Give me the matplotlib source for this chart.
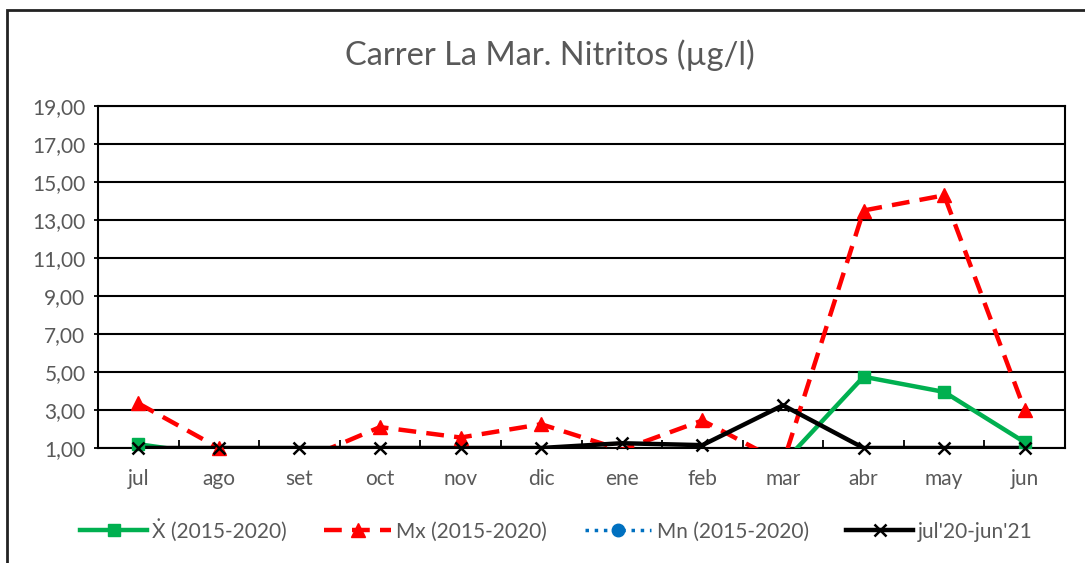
import matplotlib
matplotlib.use("Agg")
import matplotlib.pyplot as plt
from matplotlib.lines import Line2D
from matplotlib.patches import Rectangle
from matplotlib.ticker import FuncFormatter

plt.rcParams['font.family'] = ['Lato', 'DejaVu Sans']

# months and series (values < 1 are hidden under the axis)
months = ['jul', 'ago', 'set', 'oct', 'nov', 'dic', 'ene', 'feb', 'mar', 'abr', 'may', 'jun']
media = [1.2, 0.6, 0.5, 0.6, 0.6, 0.6, 0.6, 0.9, 0.2, 4.75, 3.95, 1.3]
maximo = [3.35, 1.0, 0.3, 2.1, 1.55, 2.25, 0.9, 2.45, 0.2, 13.5, 14.3, 3.0]
minimo = [0.5, 0.5, 0.5, 0.5, 0.5, 0.5, 0.5, 0.5, 0.5, 0.5, 0.5, 0.5]
actual = [1.0, 1.0, 1.0, 1.0, 1.0, 1.0, 1.25, 1.15, 3.25, 1.0, 1.0, 1.0]

labels = ['Ẋ (2015-2020)', 'Mx (2015-2020)', 'Mn (2015-2020)', "jul'20-jun'21"]
yticks = [1, 3, 5, 7, 9, 11, 13, 15, 17, 19]

gray = '#595959'
green = '#00B050'
red = '#FF0000'
blue = '#0070C0'

fig = plt.figure(figsize=(10.85, 5.63), dpi=100)
ax = fig.add_axes([0.0903, 0.2043, 0.8913, 0.6074])

x = list(range(len(months)))

styles = [
    (media, dict(color=green, lw=3.2, ls='-'), dict(marker='s', ms=8)),
    (maximo, dict(color=red, lw=3.2, ls=(0, (4, 2.3))), dict(marker='^', ms=10)),
    (minimo, dict(color=blue, lw=2.5, ls=':'), dict(marker='o', ms=9)),
    (actual, dict(color='black', lw=3.2, ls='-'), dict(marker='x', ms=9, mew=1.8)),
]

for vals, lstyle, mstyle in styles:
    ax.plot(x, vals, zorder=3, **lstyle)
    # Excel draws markers unclipped, but only points within the axis range
    px = [i for i, v in zip(x, vals) if v >= 0.95]
    py = [v for v in vals if v >= 0.95]
    ax.plot(px, py, ls='none', color=lstyle['color'], clip_on=False, zorder=4, **mstyle)

ax.set_xlim(-0.5, len(months) - 0.5)
ax.set_ylim(1, 19)
ax.set_yticks(yticks)
ax.yaxis.set_major_formatter(FuncFormatter(lambda v, p: ('%.2f' % v).replace('.', ',')))
ax.set_xticks(x)
ax.set_xticklabels(months)
ax.set_xticks([i + 0.5 for i in x[:-1]], minor=True)
ax.tick_params(axis='x', which='major', length=0, pad=15, labelsize=15, labelcolor=gray)
ax.tick_params(axis='x', which='minor', length=6, width=1.3, direction='in')
ax.tick_params(axis='y', length=3, width=1.3, labelsize=15, labelcolor=gray, pad=6)
ax.grid(axis='y', color='black', lw=1.5)
ax.set_axisbelow(True)
for s in ax.spines.values():
    s.set_linewidth(1.5)

fig.text(0.507, 0.902, 'Carrer La Mar. Nitritos (µg/l)', ha='center', va='center',
         fontsize=23.5, color=gray)

handles = []
for vals, lstyle, mstyle in styles:
    handles.append(Line2D([], [], **lstyle, **mstyle))
fig.legend(handles, labels, loc='center', bbox_to_anchor=(0.513, 0.0586), ncol=4,
           frameon=False, fontsize=15, labelcolor=gray, handlelength=3.2,
           columnspacing=1.8, handletextpad=0.25)

# chart-area border, cut by the screenshot on the right and bottom
fig.patches.append(Rectangle((7 / 1085, -0.1), 1.2, 1 - 10 / 563 + 0.1,
                             transform=fig.transFigure, fill=False, lw=2, ec='#222222'))

fig.savefig('out.png', dpi=100)
